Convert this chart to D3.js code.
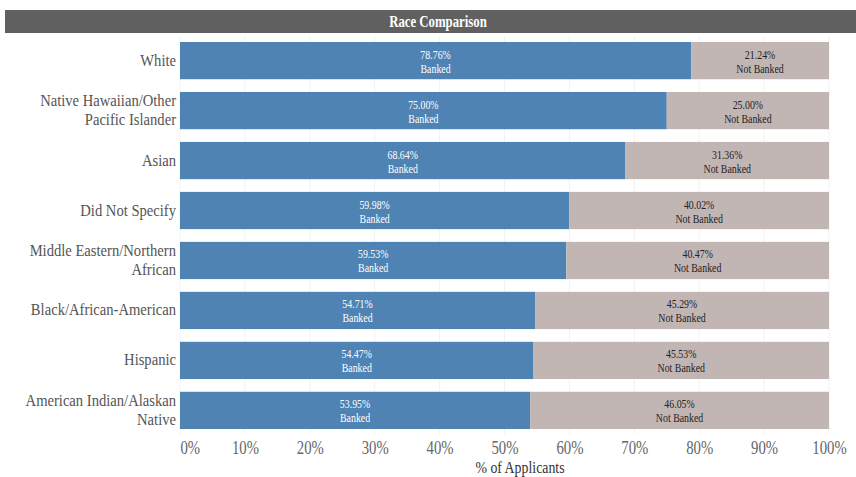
<!DOCTYPE html>
<html><head><meta charset="utf-8">
<script src="https://cdn.jsdelivr.net/npm/d3@7"></script>
<style>body{margin:0;background:#fff}svg{display:block}</style>
</head><body><svg id="c" width="856" height="477"></svg>
<script>
const categories = ["White","Native Hawaiian/Other Pacific Islander","Asian","Did Not Specify","Middle Eastern/Northern African","Black/African-American","Hispanic","American Indian/Alaskan Native"];
const categoryLines = [["White"],["Native Hawaiian/Other","Pacific Islander"],["Asian"],["Did Not Specify"],["Middle Eastern/Northern","African"],["Black/African-American"],["Hispanic"],["American Indian/Alaskan","Native"]];
const banked = [78.76,75.00,68.64,59.98,59.53,54.71,54.47,53.95];
const notBanked = [21.24,25.00,31.36,40.02,40.47,45.29,45.53,46.05];
const ticks = [0,10,20,30,40,50,60,70,80,90,100];
const title = "Race Comparison";
const axisTitle = "% of Applicants";
const FF = '"Liberation Serif"';

const svg = d3.select("#c");
const x = d3.scaleLinear().domain([0,100]).range([180,829]);
const y = d3.scaleBand().domain(categories).range([37,434]).paddingInner(0.255).paddingOuter(0.1);

// condensed text helper
function ctext(parent, tx, ty, str, opt){
  const g = parent.append("g").attr("transform",`translate(${tx},${ty}) scale(${opt.sx||0.85},1)`);
  const t = g.append("text").attr("x",0).attr("y",0).style("font-family",FF)
    .attr("text-anchor",opt.anchor||"middle").attr("fill",opt.fill||"#000")
    .attr("font-size",opt.size||12);
  if(opt.weight) t.attr("font-weight",opt.weight);
  t.text(str);
  return t;
}

svg.append("rect").attr("x",5).attr("y",10).attr("width",851).attr("height",23).attr("fill","#606060");
ctext(svg,438,27,title,{fill:"#fff",weight:"bold",size:16,sx:0.8});

// gridlines
svg.append("g").selectAll("line").data(ticks).join("line")
  .attr("x1",d=>x(d)).attr("x2",d=>x(d)).attr("y1",36).attr("y2",434)
  .attr("stroke","#f2f2f2").attr("stroke-width",1);

const rows = svg.append("g").selectAll("g").data(categories).join("g");
rows.append("rect").attr("x",x(0)).attr("y",d=>y(d)).attr("height",y.bandwidth())
  .attr("width",(d,i)=>x(banked[i])-x(0)).attr("fill","#4e83b3");
rows.append("rect").attr("x",(d,i)=>x(banked[i])).attr("y",d=>y(d)).attr("height",y.bandwidth())
  .attr("width",(d,i)=>x(banked[i]+notBanked[i])-x(banked[i])).attr("fill","#c2b6b4");

rows.each(function(d,i){
  const row = d3.select(this);
  const cy = y(d)+y.bandwidth()/2;
  const bx = x(banked[i]/2), nx = x(banked[i]+notBanked[i]/2);
  ctext(row,bx,cy-2,banked[i].toFixed(2)+"%",{fill:"#fff",size:13,sx:0.76});
  ctext(row,bx,cy+12,"Banked",{fill:"#fff",size:13,sx:0.76});
  ctext(row,nx,cy-2,notBanked[i].toFixed(2)+"%",{fill:"#222",size:13,sx:0.76});
  ctext(row,nx,cy+12,"Not Banked",{fill:"#222",size:13,sx:0.76});
  const lines = categoryLines[i];
  lines.forEach((l,j)=>{
    ctext(row,176,cy+5+(j-(lines.length-1)/2)*19,l,{fill:"#555",size:16.5,sx:0.885,anchor:"end"});
  });
});

// x axis (ticks from the scale, drawn condensed)
const ax = svg.append("g").attr("transform","translate(0,434)")
  .call(d3.axisBottom(x).tickValues(ticks).tickFormat(d=>d+"%").tickSize(0).tickPadding(6));
ax.select(".domain").remove();
ax.selectAll(".tick text").remove();
ax.selectAll(".tick").each(function(d){
  ctext(d3.select(this),0,20,d+"%",{fill:"#666",size:18,sx:0.82,anchor:d===0?"start":"middle"});
});

ctext(svg,520,473,axisTitle,{fill:"#333",size:16.5,sx:0.84});
</script></body></html>
